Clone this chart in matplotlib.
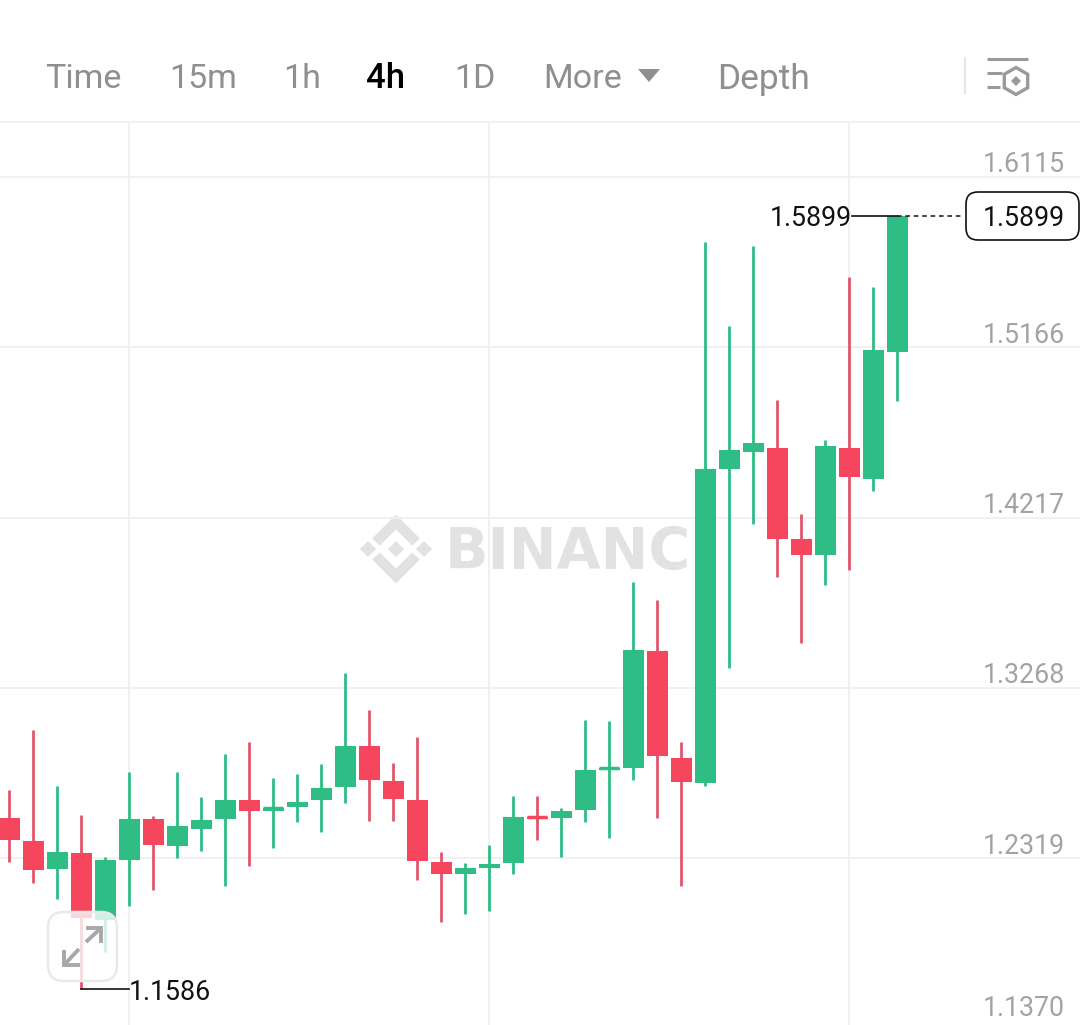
import matplotlib
matplotlib.use("Agg")
import matplotlib.pyplot as plt
from matplotlib.patches import FancyBboxPatch, Polygon, Rectangle, RegularPolygon

tabs = ["Time", "15m", "1h", "4h", "1D", "More", "Depth"]
tick_labels = ["1.6115", "1.5166", "1.4217", "1.3268", "1.2319", "1.1370"]
tick_values = [1.6115, 1.5166, 1.4217, 1.3268, 1.2319, 1.1370]
label_lift = [0.0085, 0.0085, 0.0085, 0.0085, 0.0080, 0.0125]
grid_candles = [5, 20, 35]
last_price = 1.5899
low_price = 1.1586

high = [1.2698, 1.3033, 1.2720, 1.2558, 1.2324, 1.2798, 1.2553, 1.2798, 1.2659, 1.2898,
        1.2965, 1.2765, 1.2787, 1.2843, 1.3350, 1.3144, 1.2848, 1.2993, 1.2352, 1.2291,
        1.2391, 1.2664, 1.2664, 1.2597, 1.3088, 1.3083, 1.3858, 1.3757, 1.2965, 1.5753,
        1.5284, 1.5730, 1.4872, 1.4237, 1.4649, 1.5558, 1.5502, 1.5899]
body_top = [1.2542, 1.2413, 1.2352, 1.2347, 1.2307, 1.2536, 1.2536, 1.2497, 1.2531, 1.2642,
            1.2642, 1.2597, 1.2631, 1.2709, 1.2943, 1.2943, 1.2748, 1.2642, 1.2297, 1.2263,
            1.2285, 1.2547, 1.2547, 1.2581, 1.2810, 1.2821, 1.3478, 1.3473, 1.2876, 1.4487,
            1.4593, 1.4632, 1.4604, 1.4097, 1.4616, 1.4604, 1.5151, 1.5899]
body_bottom = [1.2419, 1.2252, 1.2257, 1.1984, 1.1973, 1.2307, 1.2391, 1.2386, 1.2480, 1.2536,
               1.2581, 1.2581, 1.2603, 1.2642, 1.2714, 1.2753, 1.2648, 1.2302, 1.2230, 1.2230,
               1.2263, 1.2291, 1.2536, 1.2542, 1.2586, 1.2810, 1.2821, 1.2887, 1.2742, 1.2737,
               1.4487, 1.4582, 1.4097, 1.4008, 1.4008, 1.4443, 1.4432, 1.5140]
low = [1.2297, 1.2180, 1.2090, 1.1586, 1.1795, 1.2051, 1.2140, 1.2319, 1.2358, 1.2163,
       1.2274, 1.2375, 1.2519, 1.2464, 1.2625, 1.2525, 1.2525, 1.2196, 1.1962, 1.2007,
       1.2023, 1.2230, 1.2419, 1.2324, 1.2519, 1.2430, 1.2753, 1.2542, 1.2163, 1.2720,
       1.3378, 1.4181, 1.3885, 1.3518, 1.3841, 1.3924, 1.4365, 1.4866]
rising = [0, 0, 1, 0, 1, 1, 0, 1, 1, 1, 0, 1, 1, 1, 1, 0, 0, 0, 0, 1,
          1, 1, 0, 1, 1, 1, 1, 0, 0, 1, 1, 1, 0, 0, 1, 0, 1, 1]

GREEN, RED = "#2ebd85", "#f6465d"
WICK_RED = "#e0566c"
GRID = "#f0f0f0"
plt.rcParams["font.family"] = ["Roboto", "DejaVu Sans"]
LABEL_SIZE = 19.3

W, H = 1080, 1025
fig = plt.figure(figsize=(W / 100, H / 100), dpi=100, facecolor="white")

# chart axes: x in candle index, y in price
ax = fig.add_axes([0, 0, 1, 1], facecolor="none", zorder=2)
ax.set_xlim(-9 / 24, (W - 9) / 24)
ax.set_ylim(1.1388, 1.7102)
ax.axis("off")

# pixel overlays for the interface chrome
ui = fig.add_axes([0, 0, 1, 1], facecolor="none", zorder=1)
ui.set_xlim(0, W)
ui.set_ylim(H, 0)
ui.axis("off")
top = fig.add_axes([0, 0, 1, 1], facecolor="none", zorder=3)
top.set_xlim(0, W)
top.set_ylim(H, 0)
top.axis("off")

# header
tab_x = [45, 169, 283, 366, 454, 543, 717]
tab_size = [24.5, 24.5, 24.5, 25, 24.5, 24.5, 25.5]
for name, x, size in zip(tabs, tab_x, tab_size):
    ui.text(x, 75.5, name, fontsize=size, va="center_baseline", ha="left",
            color="#000000" if name == "4h" else "#8f8f8f",
            fontweight="medium" if name == "4h" else "normal")
ui.add_patch(Polygon([[638, 69], [660, 69], [649, 82]], closed=True, color="#8f8f8f", lw=0))
ui.plot([964.5, 964.5], [58, 93], color="#e6e6e6", lw=1.5)
ui.plot([0, W], [122, 122], color="#f2f2f2", lw=1.5)

# settings icon
for x0, x1, y in [(987, 1028, 59), (987, 1002, 73), (987, 1000, 87)]:
    ui.plot([x0, x1], [y, y], color="#9a9a9a", lw=2.2, solid_capstyle="butt")
ui.add_patch(RegularPolygon((1016, 81), 6, radius=13.5, fill=False, ec="#9a9a9a", lw=2.4))
ui.add_patch(RegularPolygon((1016, 81), 4, radius=5, color="#9a9a9a", lw=0))

# grid
ax.hlines(tick_values, -1, 60, color=GRID, lw=1.3, zorder=1)
ax.vlines(grid_candles, 1.1, 1.6416, color=GRID, lw=1.3, zorder=1)

# watermark, cut off behind the long candle
mark = ui.text(445, 548, "BINANCE", fontsize=41, fontweight="bold", color="#e2e2e2",
               va="center_baseline", ha="left", family="DejaVu Sans")
mark.set_clip_on(True)
mark.set_clip_path(Rectangle((440, 500), 257, 100, transform=ui.transData))
for cx, cy in [(396, 549), (368, 549), (424, 549)]:
    ui.add_patch(RegularPolygon((cx, cy), 4, radius=8, color="#e2e2e2", lw=0))
for ys in ([542, 522, 542], [556, 576, 556]):
    ui.plot([376, 396, 416], ys, color="#e2e2e2", lw=7.5, solid_joinstyle="miter",
            solid_capstyle="butt")

# candles
for i in range(len(high)):
    c = GREEN if rising[i] else RED
    ax.vlines(i, low[i], high[i], color=GREEN if rising[i] else WICK_RED, lw=2.0, zorder=3)
    ax.bar(i, body_top[i] - body_bottom[i], bottom=body_bottom[i], width=21 / 24,
           color=c, lw=0, zorder=4)
    if body_top[i] - body_bottom[i] < 0.002:
        ax.hlines(body_top[i], i - 10 / 24, i + 10 / 24, color=c, lw=2.5, zorder=4)

# price labels
for label, v, lift in zip(tick_labels, tick_values, label_lift):
    ax.text(1065 / W, v + lift, label, transform=ax.get_yaxis_transform(), ha="right",
            va="center_baseline", fontsize=LABEL_SIZE, color="#a3a3a3")

# last price marker
x_last = len(high) - 1
ax.plot([35.12, x_last], [last_price, last_price], color="#111111", lw=1.2, zorder=5)
ax.plot([x_last, 39.8], [last_price, last_price], color="#111111", lw=1.1, ls=(0, (3, 2.5)), zorder=5)
ax.text(35.12, last_price, f"{last_price:.4f}", ha="right", va="center_baseline",
        fontsize=LABEL_SIZE, color="#111111", zorder=6)
top.add_patch(FancyBboxPatch((966, 192), 113, 48, boxstyle="round,pad=0,rounding_size=12",
                             fc="white", ec="#111111", lw=1.2))
top.text(1024, 216, f"{last_price:.4f}", ha="center", va="center_baseline",
         fontsize=LABEL_SIZE, color="#111111")

# low marker
ax.plot([3, 5], [low_price, low_price], color="#111111", lw=1.2, zorder=5)
ax.text(5, low_price, f"{low_price:.4f}", ha="left", va="center_baseline",
        fontsize=LABEL_SIZE, color="#111111", zorder=6)

# expand button
top.add_patch(FancyBboxPatch((48, 912), 69, 69, boxstyle="round,pad=0,rounding_size=16",
                             fc=(1, 1, 1, 0.78), ec="#e9e9e9", lw=1.8))
top.plot([86, 101], [942, 928], color="#a8a8a8", lw=2.8, solid_capstyle="butt")
top.plot([88, 101, 101], [928, 928, 941], color="#a8a8a8", lw=2.8, solid_joinstyle="miter")
top.plot([79, 64], [949, 965], color="#a8a8a8", lw=2.8, solid_capstyle="butt")
top.plot([64, 64, 78], [952, 965, 965], color="#a8a8a8", lw=2.8, solid_joinstyle="miter")

fig.savefig("out.png", dpi=100, facecolor="white")
